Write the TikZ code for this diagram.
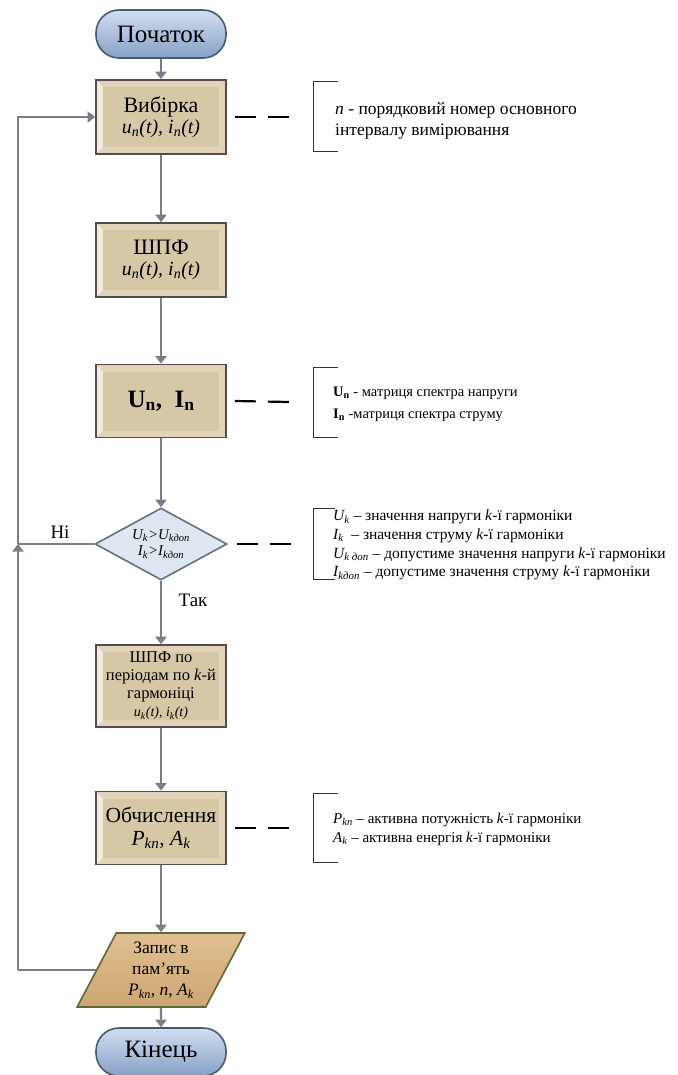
\documentclass[tikz,border=0pt]{standalone}
\usepackage{fontspec}
\setmainfont{Liberation Serif}
\usetikzlibrary{shapes.geometric,arrows.meta}
\definecolor{linegray}{RGB}{125,125,135}
\definecolor{boxborder}{RGB}{85,75,80}
\definecolor{boxtan}{RGB}{214,199,167}
\definecolor{bevlight}{RGB}{242,236,222}
\definecolor{bevmid}{RGB}{225,212,185}
\definecolor{termtop}{RGB}{210,222,240}
\definecolor{termbot}{RGB}{135,160,198}
\definecolor{termborder}{RGB}{70,90,115}
\definecolor{diafill}{RGB}{222,230,240}
\definecolor{diaborder}{RGB}{95,115,135}
\definecolor{memtop}{RGB}{225,192,145}
\definecolor{membot}{RGB}{205,165,115}
\definecolor{memborder}{RGB}{95,105,55}
\tikzset{
  flow/.style={draw=linegray, line width=2.2pt, -{Triangle[width=11pt,length=7.5pt]}},
  plainline/.style={draw=linegray, line width=2.2pt},
  dashlink/.style={draw=black, line width=2.2pt, dash pattern=on 21pt off 12pt},
  bracketline/.style={draw=black!80, line width=1pt},
  procbox/.style={rectangle, draw=boxborder, line width=1.6pt, minimum width=130pt,
    minimum height=74pt, align=center, inner sep=1pt, fill=bevmid,
    path picture={
      \coordinate (pSW) at (path picture bounding box.south west);
      \coordinate (pNE) at (path picture bounding box.north east);
      \coordinate (pNW) at (pSW |- pNE);
      \fill[bevlight] (pSW) -- ([shift={(7pt,7pt)}]pSW) -- ([shift={(7pt,-7pt)}]pNW) -- (pNW) -- cycle;
      \fill[boxtan] ([shift={(7pt,7pt)}]pSW) rectangle ([shift={(-7pt,-7pt)}]pNE);
    }},
  terminal/.style={rectangle, rounded corners=23pt, draw=termborder, line width=1.6pt,
    top color=termtop, bottom color=termbot, minimum width=130pt, minimum height=48pt,
    inner sep=2pt, font=\fontsize{25}{27}\selectfont},
  decision/.style={diamond, draw=diaborder, line width=1.6pt, fill=diafill,
    minimum width=132pt, minimum height=72pt, inner sep=0pt, aspect=1.8, align=center,
    font=\fontsize{15}{16.5}\selectfont},
  iobox/.style={trapezium, trapezium left angle=63, trapezium right angle=117,
    trapezium stretches=true, draw=memborder, line width=1.6pt,
    top color=memtop, bottom color=membot, minimum width=168pt, minimum height=74pt,
    align=center, inner sep=0pt, font=\fontsize{17.5}{21}\selectfont},
  desc/.style={anchor=west, align=left, inner sep=0pt},
  lbl/.style={font=\fontsize{19}{21}\selectfont, inner sep=0pt},
}
\newcommand{\ital}[1]{\textit{#1}}
\begin{document}
\begin{tikzpicture}[x=1pt,y=-1pt]
\useasboundingbox (0,0) rectangle (677,1075);

% main chain
\node[terminal] (start) at (161,34) {Початок};
\node[procbox, font=\fontsize{22}{21}\selectfont] (vib) at (161,117)
  {Вибірка\\{\fontsize{20}{21}\selectfont\ital{u\textsubscript{n}(t), i\textsubscript{n}(t)}}};
\node[procbox, font=\fontsize{22}{21}\selectfont] (shpf) at (161,260)
  {ШПФ\\{\fontsize{20}{21}\selectfont\ital{u\textsubscript{n}(t), i\textsubscript{n}(t)}}};
\node[procbox, minimum height=73pt, font=\fontsize{25}{27}\selectfont\bfseries] (un) at (161,401)
  {U\textsubscript{n},\ \ I\textsubscript{n}};
\node[decision] (dia) at (161,544)
  {\ital{U\textsubscript{k}>U\textsubscript{kдоп}}\\\ital{I\textsubscript{k}>I\textsubscript{kдоп}}};
\node[procbox, minimum height=82pt, font=\fontsize{16.5}{18}\selectfont] (shpfk) at (161,686)
  {ШПФ по\\періодам по \ital{k}-й\\гармоніці\\{\fontsize{14}{16}\selectfont\ital{u\textsubscript{k}(t), i\textsubscript{k}(t)}}};
\node[procbox, minimum height=73pt, font=\fontsize{21.5}{23}\selectfont] (obch) at (161,828)
  {Обчислення\\\ital{P\textsubscript{kn}, A\textsubscript{k}}};
\node[iobox] (mem) at (161,970)
  {Запис в\\пам'ять\\\ital{P\textsubscript{kn}, n, A\textsubscript{k}}};
\node[terminal] (end) at (161,1052) {Кінець};

\draw[flow] (start) -- (vib);
\draw[flow] (vib) -- (shpf);
\draw[flow] (shpf) -- (un);
\draw[flow] (un) -- (dia);
\draw[flow] (dia) -- (shpfk);
\draw[flow] (shpfk) -- (obch);
\draw[flow] (obch) -- (mem);
\draw[flow] (mem) -- (end);

% loop back
\coordinate (loopx) at (18,0);
\draw[plainline] (mem.west) -- (mem.west -| loopx);
\draw[flow] (mem.west -| loopx) -- (dia.west -| loopx);
\draw[plainline] (dia.west) -- (dia.west -| loopx);
\draw[flow] (dia.west -| loopx) |- (vib.west);

\node[lbl] (ni) at (60,532) {Ні};
\node[lbl] (tak) at (193,600) {Так};

% dashed links
\coordinate (d1) at (290,117);
\coordinate (d2) at (290,402);
\coordinate (d3) at (291,544);
\coordinate (d4) at (290,828);
\draw[dashlink] ([xshift=8pt]vib.east) -- (d1);
\draw[dashlink] ([xshift=8pt]un.east) -- (d2);
\draw[dashlink] ([xshift=9pt]dia.east) -- (d3);
\draw[dashlink] ([xshift=8pt]obch.east) -- (d4);

% brackets
\coordinate (b1t) at (313,82);  \coordinate (b1b) at (313,152);
\coordinate (b2t) at (313,367); \coordinate (b2b) at (313,437);
\coordinate (b3t) at (313,508); \coordinate (b3b) at (313,579);
\coordinate (b4t) at (313,793); \coordinate (b4b) at (313,862);
\draw[bracketline] ([xshift=25pt]b1t) -- (b1t) -- (b1b) -- ([xshift=25pt]b1b);
\draw[bracketline] ([xshift=25pt]b2t) -- (b2t) -- (b2b) -- ([xshift=25pt]b2b);
\draw[bracketline] ([xshift=22pt]b3t) -- (b3t) -- (b3b) -- ([xshift=22pt]b3b);
\draw[bracketline] ([xshift=25pt]b4t) -- (b4t) -- (b4b) -- ([xshift=25pt]b4b);

\node[desc, font=\fontsize{17.5}{21}\selectfont] (t1) at (335,121)
  {\ital{n} - порядковий номер основного\\інтервалу вимірювання};
\node[desc, font=\fontsize{14.5}{22}\selectfont] (t2) at (333,404)
  {\textbf{U\textsubscript{n}} - матриця спектра напруги\\\textbf{I\textsubscript{n}} -матриця спектра струму};
\node[desc, font=\fontsize{15.5}{18.7}\selectfont] (t3) at (333,545)
  {\ital{U\textsubscript{k}} – значення напруги \ital{k}-ї гармоніки\\
   \ital{I\textsubscript{k}}\ \ – значення струму \ital{k}-ї гармоніки\\
   \ital{U\textsubscript{k доп}} – допустиме значення напруги \ital{k}-ї гармоніки\\
   \ital{I\textsubscript{kдоп}} – допустиме значення струму \ital{k}-ї гармоніки};
\node[desc, font=\fontsize{15}{19}\selectfont] (t4) at (333,829)
  {\ital{P\textsubscript{kn}} – активна потужність \ital{k}-ї гармоніки\\\ital{A\textsubscript{k}} – активна енергія \ital{k}-ї гармоніки};
\end{tikzpicture}
\end{document}
